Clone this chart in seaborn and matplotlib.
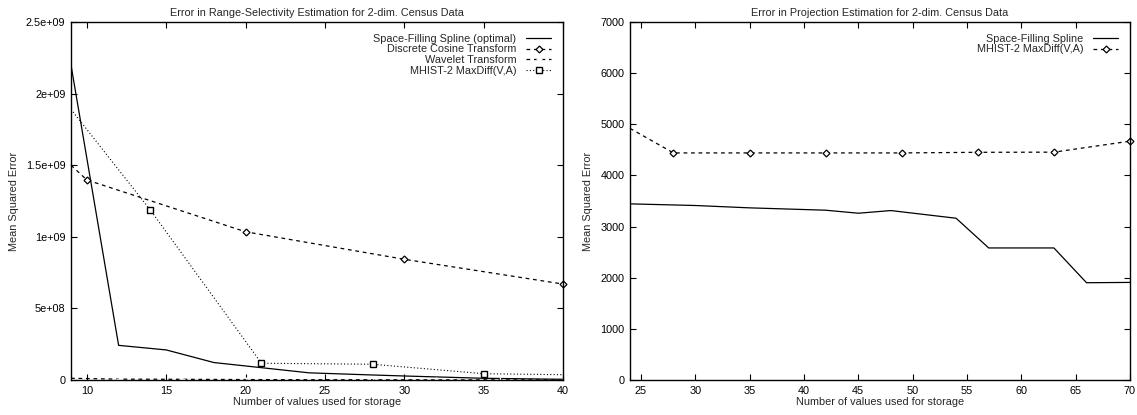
import matplotlib
matplotlib.use("Agg")
import matplotlib.pyplot as plt
import seaborn as sns
import pandas as pd
import numpy as np

# ---------------- data: left panel ----------------
spline_x = [9, 12, 15, 18, 21, 24, 28, 30, 35, 40]
spline_y = [2.2e9, 2.42e8, 2.1e8, 1.22e8, 0.86e8, 0.5e8, 0.35e8, 0.28e8, 0.12e8, 0.05e8]

dct_x = [9, 10, 20, 30, 40]
dct_y = [1.5e9, 1.397e9, 1.035e9, 0.843e9, 0.67e9]

wav_x = [9, 12, 16, 20, 24, 28, 32, 36, 40]
wav_y = [1.2e7, 6e6, 5e6, 3e6, 2e6, 1.5e6, 1e6, 8e5, 5e5]

mh_x = [9, 14, 21, 28, 35, 40]
mh_y = [1.89e9, 1.187e9, 0.117e9, 0.11e9, 0.044e9, 0.037e9]

left_xticks = [10, 15, 20, 25, 30, 35, 40]
left_yticks = [0, 5e8, 1e9, 1.5e9, 2e9, 2.5e9]
left_yticklabels = ["0", "5e+08", "1e+09", "1.5e+09", "2e+09", "2.5e+09"]

# ---------------- data: right panel ----------------
rs_x = [24, 30, 35, 42, 45, 48, 54, 57, 63, 66, 70]
rs_y = [3444, 3412, 3366, 3320, 3261, 3313, 3163, 2582, 2582, 1902, 1908]

rm_x = [24, 28, 35, 42, 49, 56, 63, 70]
rm_y = [4920, 4440, 4440, 4440, 4440, 4452, 4455, 4670]

right_xticks = [25, 30, 35, 40, 45, 50, 55, 60, 65, 70]
right_yticks = [0, 1000, 2000, 3000, 4000, 5000, 6000, 7000]

sns.set_theme(style="white")
plt.rcParams['font.family'] = ['Liberation Sans', 'DejaVu Sans']
plt.rcParams['font.size'] = 7.8

fig = plt.figure(figsize=(11.37, 4.15), dpi=100)
ax1 = fig.add_axes([71/1137, 1-380/415, (563-71)/1137, (380-22)/415])
ax2 = fig.add_axes([630/1137, 1-380/415, (1130-630)/1137, (380-22)/415])

FS = 7.8
lw = 0.9

def draw(ax, x, y, label, **kw):
    df = pd.DataFrame({"x": x, "y": y})
    sns.lineplot(data=df, x="x", y="y", ax=ax, color="black", label=label,
                 sort=False, **kw)

# left
draw(ax1, spline_x, spline_y, "Space-Filling Spline (optimal)", linewidth=lw, linestyle="-")
draw(ax1, dct_x, dct_y, "Discrete Cosine Transform", linewidth=lw, dashes=(3, 3),
     marker="D", markersize=3.5, markerfacecolor="white", markeredgecolor="black",
     markeredgewidth=0.9, markevery=[1, 2, 3, 4], clip_on=False)
draw(ax1, wav_x, wav_y, "Wavelet Transform", linewidth=lw, dashes=(3, 3),
     marker="+", markersize=5, markeredgewidth=0.9, markevery=list(range(1, 9)))
draw(ax1, mh_x, mh_y, "MHIST-2 MaxDiff(V,A)", linewidth=0.8, dashes=(1, 2),
     marker="s", markersize=4.5, markerfacecolor="white", markeredgecolor="black",
     markeredgewidth=1.0, markevery=[1, 2, 3, 4])

ax1.set_xlim(9, 40)
ax1.set_ylim(0, 2.5e9)
ax1.set_xticks(left_xticks)
ax1.set_xticklabels([str(t) for t in left_xticks])
ax1.set_yticks(left_yticks)
ax1.set_yticklabels(left_yticklabels)
ax1.set_title("Error in Range-Selectivity Estimation for 2-dim. Census Data", fontsize=FS, pad=4)

# right
draw(ax2, rs_x, rs_y, "Space-Filling Spline", linewidth=lw, linestyle="-")
draw(ax2, rm_x, rm_y, "MHIST-2 MaxDiff(V,A)", linewidth=lw, dashes=(3, 3),
     marker="D", markersize=3.5, markerfacecolor="white", markeredgecolor="black",
     markeredgewidth=0.9, markevery=list(range(1, 8)), clip_on=False)
ax2.set_xlim(24, 70)
ax2.set_ylim(0, 7000)
ax2.set_xticks(right_xticks)
ax2.set_xticklabels([str(t) for t in right_xticks])
ax2.set_yticks(right_yticks)
ax2.set_yticklabels([str(t) for t in right_yticks])
ax2.set_title("Error in Projection Estimation for 2-dim. Census Data", fontsize=FS, pad=4)

for ax in (ax1, ax2):
    ax.set_xlabel("Number of values used for storage", fontsize=FS, labelpad=1)
    ax.set_ylabel("Mean Squared Error", fontsize=FS, labelpad=5)
    for s in ax.spines.values():
        s.set_visible(True)
        s.set_color("black")
        s.set_linewidth(1.0)
    ax.tick_params(axis="both", which="both", direction="in", length=4, width=0.8,
                   top=True, right=True, bottom=True, left=True, labelsize=FS,
                   colors="black", pad=4)
    ax.set_facecolor("white")
    leg = ax.legend(loc="upper right", frameon=False, markerfirst=False, fontsize=FS,
                    handlelength=2.3, handletextpad=0.9, labelspacing=0.05,
                    borderaxespad=0.7)
    for h in leg.legend_handles:
        try:
            h.set_markevery([1])
        except Exception:
            pass

fig.savefig("out.png", dpi=100, facecolor="white")
